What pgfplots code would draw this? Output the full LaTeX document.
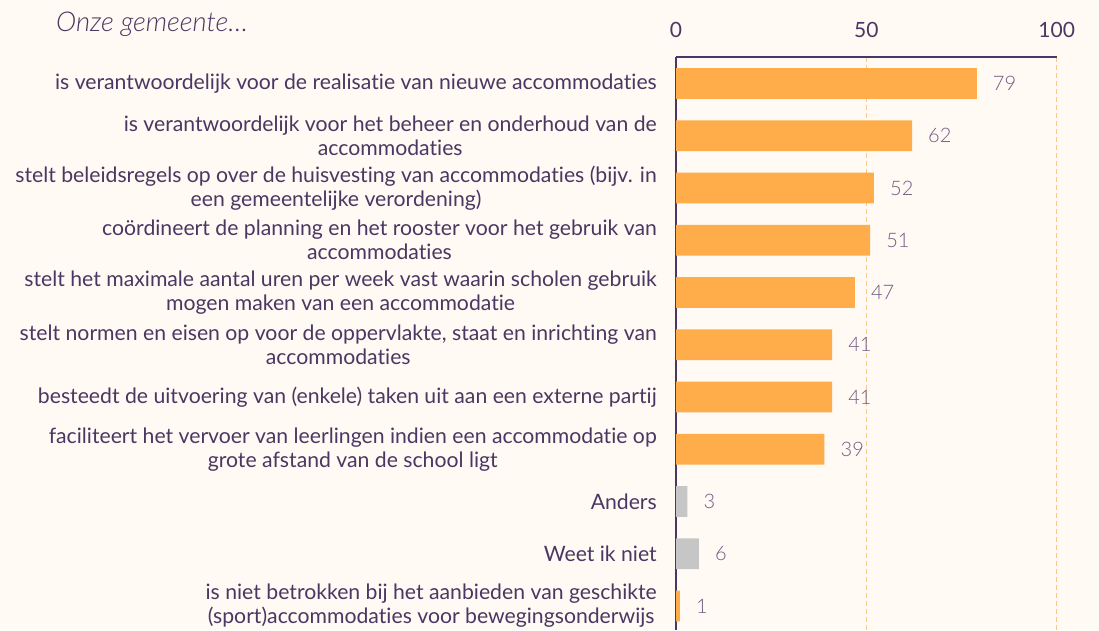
\documentclass[border=0pt]{standalone}
\usepackage{pgfplots}
\pgfplotsset{compat=1.18}
\usepackage{fontspec}
\setmainfont{Lato}[Ligatures={NoCommon}]
\newfontfamily\latolight{Lato}[UprightFont={* Light}, ItalicFont={* Light Italic}, Ligatures={NoCommon}]
\definecolor{bg}{HTML}{FFFAF3}
\definecolor{txt}{HTML}{4A3763}
\definecolor{val}{HTML}{6E5C85}
\definecolor{barc}{HTML}{FFAD4A}
\definecolor{grc}{HTML}{C6C6C6}
\definecolor{gridc}{HTML}{FFC685}
\begin{document}
\begin{tikzpicture}
\useasboundingbox (0pt,0pt) rectangle (1099pt,630pt);
\fill[bg] (0pt,0pt) rectangle (1099pt,630pt);
\node[anchor=west, inner sep=0pt, font=\latolight\fontsize{27.3}{30}\selectfont\itshape, text=txt] at (56pt,606pt) {Onze gemeente\ldots};
\begin{axis}[
  at={(676pt,0pt)}, anchor=south west,
  scale only axis, width=380.7pt, height=572.7pt,
  xmin=0, xmax=100, ymin=-10.46, ymax=0.5,
  axis x line=top, axis y line=left,
  axis line style={-, line width=1.6pt, color=txt},
  xbar, bar width=0.59, bar shift=0,
  xtick={0,50,100},
  xmajorgrids, grid style={dash pattern=on 5pt off 3pt, line width=1.5pt, color=gridc},
  major tick length=0pt,
  xticklabel style={inner sep=0pt, anchor=south, yshift=19pt, font=\fontsize{21}{24}\selectfont, text=txt},
  /pgf/number format/assume math mode=true,
  ytick={0,-1,-2,-3,-4,-5,-6,-7,-8,-9,-10},
  yticklabels={
    {is verantwoordelijk voor de realisatie van nieuwe accommodaties},
    {is verantwoordelijk voor het beheer en onderhoud van de\\accommodaties},
    {stelt beleidsregels op over de huisvesting van accommodaties (bijv. in\\een gemeentelijke verordening)},
    {coördineert de planning en het rooster voor het gebruik van\\accommodaties},
    {stelt het maximale aantal uren per week vast waarin scholen gebruik\\mogen maken van een accommodatie},
    {stelt normen en eisen op voor de oppervlakte, staat en inrichting van\\accommodaties},
    {besteedt de uitvoering van (enkele) taken uit aan een externe partij},
    {faciliteert het vervoer van leerlingen indien een accommodatie op\\grote afstand van de school ligt},
    {Anders},
    {Weet ik niet},
    {is niet betrokken bij het aanbieden van geschikte\\(sport)accommodaties voor bewegingsonderwijs}
  },
  yticklabel style={align=center, anchor=east, inner sep=0pt, xshift=-19pt, font=\fontsize{21.2}{24}\selectfont, text=txt},
  nodes near coords,
  point meta=x,
  nodes near coords style={anchor=west, inner sep=0pt, xshift=16pt, font=\latolight\fontsize{20}{22}\selectfont, text=val},
  clip=false,
]
\addplot[draw=none, fill=barc] coordinates {(79,0) (62,-1) (52,-2) (51,-3) (47,-4) (41,-5) (41,-6) (39,-7) (1,-10)};
\addplot[draw=none, fill=grc] coordinates {(3,-8) (6,-9)};
\end{axis}
\end{tikzpicture}
\end{document}
